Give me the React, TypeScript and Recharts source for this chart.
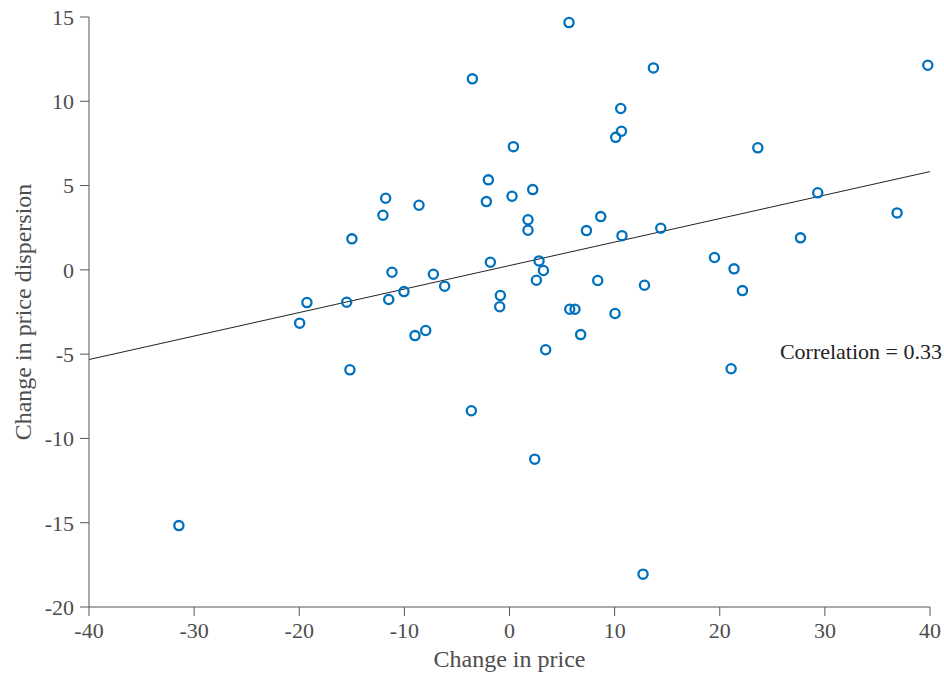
import { ScatterChart, Scatter, XAxis, YAxis, ReferenceLine, Label } from 'recharts'

// change in price (x) and change in price dispersion (y)
const priceChange = [
  5.66, 13.69, 39.79, -3.53, 10.58, 10.65, 10.1, 23.62, 0.37, -2.01,
  2.21, 29.32, -11.78, 0.24, -2.2, -8.61, -12.04, 36.87, 8.68, 1.76,
  1.76, 7.32, 14.39, 10.7, -14.99, 27.68, 19.5, -1.82, 2.81, 21.36,
  -11.18, 3.23, -7.24, 8.39, 2.56, -6.17, 12.84, 22.16, -10.04, -0.87,
  -11.49, -19.27, -15.49, -0.93, 5.73, 6.23, 10.04, -19.96, -7.97, -8.99,
  6.77, 3.44, 21.08, -15.18, -3.63, 2.4, -31.45, 12.7
]
const dispersionChange = [
  14.67, 11.98, 12.14, 11.33, 9.57, 8.22, 7.86, 7.24, 7.31, 5.34,
  4.76, 4.57, 4.25, 4.37, 4.05, 3.83, 3.24, 3.38, 3.16, 2.97,
  2.35, 2.33, 2.47, 2.03, 1.84, 1.9, 0.73, 0.45, 0.53, 0.06,
  -0.14, -0.04, -0.26, -0.63, -0.62, -0.97, -0.91, -1.23, -1.29, -1.52,
  -1.76, -1.94, -1.92, -2.19, -2.34, -2.34, -2.59, -3.16, -3.6, -3.9,
  -3.84, -4.74, -5.87, -5.93, -8.36, -11.23, -15.17, -18.05
]

const xTicks = [-40, -30, -20, -10, 0, 10, 20, 30, 40]
const yTicks = [-20, -15, -10, -5, 0, 5, 10, 15]

// fitted line end points
const fitX = [-40, 40]
const fitY = [-5.32, 5.83]

const points = priceChange.map((x, i) => ({ x, y: dispersionChange[i] }))

const font = '"Liberation Serif", "Times New Roman", serif'
const axisColor = '#555'
const tickStyle = { fontFamily: font, fontSize: 22, fill: '#4d4d4d' }

const Ring = (props: any) => (
  <circle cx={props.cx} cy={props.cy} r={4.6} fill="none" stroke="#0072BD" strokeWidth={2.3} />
)

export default function App() {
  return (
    <div style={{ position: 'absolute', left: 0, top: 0, width: 944, height: 674, background: '#fff' }}>
      <ScatterChart width={944} height={674} margin={{ top: 17, right: 14, bottom: 0, left: 0 }}>
        <XAxis
          type="number"
          dataKey="x"
          domain={[-40, 40]}
          ticks={xTicks}
          tickSize={9}
          tickMargin={6}
          stroke={axisColor}
          tick={tickStyle}
          height={67}
        >
          <Label value="Change in price" position="insideBottom" offset={7} style={{ fontFamily: font, fontSize: 24, fill: '#4d4d4d' }} />
        </XAxis>
        <YAxis
          type="number"
          dataKey="y"
          domain={[-20, 15]}
          ticks={yTicks}
          tickSize={9}
          tickMargin={6}
          stroke={axisColor}
          tick={tickStyle}
          width={89}
        >
          <Label
            value="Change in price dispersion"
            angle={-90}
            position="insideLeft"
            offset={22}
            style={{ textAnchor: 'middle', fontFamily: font, fontSize: 24, fill: '#4d4d4d' }}
          />
        </YAxis>
        <ReferenceLine
          segment={[{ x: fitX[0], y: fitY[0] }, { x: fitX[1], y: fitY[1] }]}
          stroke="#222"
          strokeWidth={1}
        />
        <Scatter data={points} shape={Ring} isAnimationActive={false} />
      </ScatterChart>
      <div
        style={{
          position: 'absolute',
          right: 2,
          top: 339,
          fontFamily: font,
          fontSize: 22,
          color: '#222',
          whiteSpace: 'nowrap',
        }}
      >
        Correlation = 0.33
      </div>
    </div>
  )
}
